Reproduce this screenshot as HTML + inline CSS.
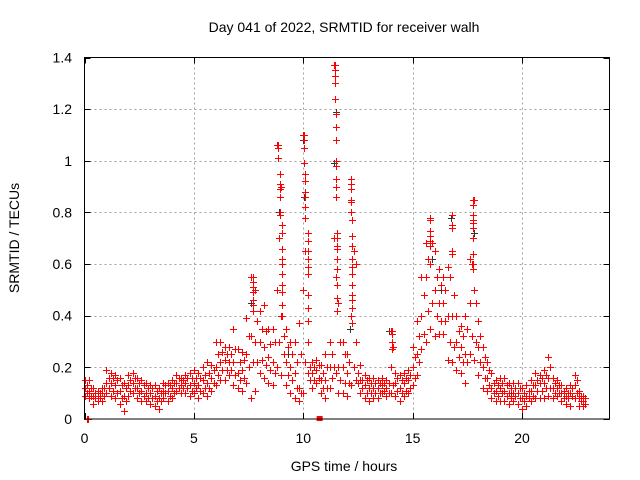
<!DOCTYPE html>
<html><head><meta charset="utf-8"><style>
html,body{margin:0;padding:0;background:#fff;}
svg{display:block;font-family:"Liberation Sans",sans-serif;}
</style></head><body>
<svg id="chart" width="640" height="480" viewBox="0 0 640 480" xmlns="http://www.w3.org/2000/svg">
<rect width="640" height="480" fill="#fff"/>
<text x="344" y="32" font-size="14" text-anchor="middle" fill="#000">Day 041 of 2022, SRMTID for receiver walh</text>
<text transform="translate(19,238) rotate(-90)" font-size="14" text-anchor="middle" fill="#000">SRMTID / TECUs</text>
<text x="344" y="471" font-size="14" text-anchor="middle" fill="#000">GPS time / hours</text>
<g id="grid"></g>
<g id="ticks"></g>
<g id="black"></g>
<g id="red"></g>
<rect x="84.5" y="57.5" width="525" height="361.5" fill="none" stroke="#000" stroke-width="1"/>
</svg>
<script>
const xTicks=[0,5,10,15,20];
const yTicks=[0,0.2,0.4,0.6,0.8,1.0,1.2,1.4];
const yTickLabels=["0","0.2","0.4","0.6","0.8","1","1.2","1.4"];
const times=[0,0.2,0.4,0.6,0.8,1.0,1.2,1.4,1.6,1.8,2.0,2.2,2.4,2.6,2.8,3.0,3.2,3.4,3.6,3.8,4.0,4.2,4.4,4.6,4.8,5.0,5.2,5.4,5.6,5.8,6.0,6.2,6.4,6.6,6.8,7.0,7.2,7.4,7.6,7.8,8.0,8.2,8.4,8.6,8.8,9.0,9.2,9.4,9.6,9.8,10.0,10.2,10.4,10.6,10.8,11.0,11.2,11.4,11.6,11.8,12.0,12.2,12.4,12.6,12.8,13.0,13.2,13.4,13.6,13.8,14.0,14.2,14.4,14.6,14.8,15.0,15.2,15.4,15.6,15.8,16.0,16.2,16.4,16.6,16.8,17.0,17.2,17.4,17.6,17.8,18.0,18.2,18.4,18.6,18.8,19.0,19.2,19.4,19.6,19.8,20.0,20.2,20.4,20.6,20.8,21.0,21.2,21.4,21.6,21.8,22.0,22.2,22.4,22.6,22.8];
const lowVals=[.09,.08,.06,.07,.07,.10,.09,.08,.06,.03,.09,.10,.08,.07,.07,.06,.05,.04,.08,.07,.08,.11,.10,.10,.09,.10,.08,.10,.09,.11,.13,.15,.15,.17,.13,.12,.11,.14,.08,.11,.18,.16,.14,.13,.20,.17,.13,.10,.08,.07,.10,.18,.12,.14,.10,.08,.12,.20,.10,.10,.09,.13,.15,.10,.08,.07,.08,.08,.10,.09,.10,.09,.07,.09,.10,.13,.17,.27,.30,.35,.32,.33,.33,.23,.22,.19,.18,.14,.25,.23,.17,.12,.11,.08,.07,.07,.07,.06,.07,.06,.04,.05,.07,.08,.08,.08,.09,.08,.09,.07,.06,.05,.08,.05,.05];
const midVals=[.12,.11,.09,.09,.10,.14,.14,.13,.11,.09,.13,.14,.12,.11,.10,.10,.09,.08,.11,.11,.12,.14,.13,.14,.13,.14,.13,.15,.14,.16,.20,.22,.23,.22,.22,.18,.19,.25,.32,.30,.30,.28,.24,.22,.50,.40,.22,.20,.18,.12,.50,.30,.18,.19,.15,.15,.20,.70,.20,.20,.18,.40,.30,.15,.13,.12,.12,.12,.13,.12,.20,.14,.12,.14,.15,.20,.25,.40,.55,.60,.50,.45,.45,.40,.40,.30,.28,.25,.45,.50,.28,.20,.16,.12,.11,.12,.11,.10,.10,.10,.08,.09,.11,.13,.14,.14,.16,.12,.12,.10,.09,.10,.13,.08,.07];
const highVals=[.15,.15,.12,.11,.12,.19,.18,.17,.16,.14,.17,.18,.16,.15,.14,.13,.13,.12,.14,.14,.15,.17,.16,.17,.18,.19,.18,.20,.22,.21,.30,.30,.28,.28,.35,.27,.26,.39,.55,.50,.42,.44,.35,.35,1.06,.90,.35,.30,.30,.37,1.10,.56,.22,.23,.21,.25,.30,1.37,.45,.30,.25,.93,.60,.21,.17,.16,.16,.15,.16,.15,.34,.18,.17,.18,.19,.28,.38,.55,.68,.78,.65,.58,.55,.59,.79,.40,.36,.40,.62,.85,.38,.28,.22,.18,.15,.16,.16,.14,.14,.14,.12,.13,.15,.18,.17,.19,.24,.16,.15,.13,.12,.13,.17,.11,.09];
const times2=[0.1,0.3,0.5,0.7,0.9,1.1,1.3,1.5,1.7,1.9,2.1,2.3,2.5,2.7,2.9,3.1,3.3,3.5,3.7,3.9,4.1,4.3,4.5,4.7,4.9,5.1,5.3,5.5,5.7,5.9,6.1,6.3,6.5,6.7,6.9,7.1,7.3,7.5,7.7,7.9,8.1,8.3,8.5,8.7,8.9,9.1,9.3,9.5,9.7,9.9,10.1,10.3,10.5,10.7,10.9,11.1,11.3,11.5,11.7,11.9,12.1,12.3,12.5,12.7,12.9,13.1,13.3,13.5,13.7,13.9,14.1,14.3,14.5,14.7,14.9,15.1,15.3,15.5,15.7,15.9,16.1,16.3,16.5,16.7,16.9,17.1,17.3,17.5,17.7,17.9,18.1,18.3,18.5,18.7,18.9,19.1,19.3,19.5,19.7,19.9,20.1,20.3,20.5,20.7,20.9,21.1,21.3,21.5,21.7,21.9,22.1,22.3,22.5,22.7,22.9];
const lowerMidVals=[.10,.09,.08,.08,.09,.12,.11,.10,.08,.07,.11,.12,.10,.09,.08,.08,.07,.07,.10,.09,.10,.12,.12,.12,.11,.12,.11,.12,.12,.14,.17,.19,.19,.19,.17,.15,.16,.20,.22,.22,.23,.21,.19,.18,.30,.25,.17,.15,.12,.10,.22,.15,.15,.16,.12,.12,.16,.18,.15,.14,.14,.20,.14,.12,.10,.10,.10,.10,.11,.10,.13,.11,.10,.11,.12,.16,.22,.33,.42,.45,.40,.38,.38,.30,.28,.24,.22,.22,.32,.30,.22,.16,.13,.10,.09,.10,.09,.08,.09,.08,.07,.08,.09,.11,.11,.12,.12,.10,.10,.08,.08,.09,.10,.07,.06];
const upperMidVals=[.13,.12,.10,.10,.12,.16,.16,.15,.13,.12,.15,.16,.14,.13,.12,.12,.11,.10,.13,.13,.14,.16,.15,.16,.16,.16,.16,.17,.18,.19,.25,.26,.25,.25,.27,.22,.23,.32,.42,.38,.35,.34,.29,.30,.70,.32,.28,.25,.22,.25,.65,.20,.20,.21,.18,.20,.25,.55,.30,.25,.22,.65,.18,.15,.15,.14,.14,.14,.14,.14,.28,.16,.15,.16,.17,.24,.32,.48,.62,.68,.55,.52,.50,.55,.48,.34,.32,.35,.60,.45,.32,.24,.19,.14,.13,.14,.13,.12,.12,.12,.10,.11,.13,.15,.16,.17,.20,.14,.13,.11,.10,.12,.15,.09,.08];
const spikeTimes=[8.85,8.85,8.85,8.95,8.95,8.95,8.95,8.95,8.95,9.05,9.05,9.05,9.05,9.05,9.05,9.05,9.05,9.05,9.05,10.05,10.05,10.05,10.05,10.1,10.1,10.1,10.1,10.1,10.1,10.2,10.2,10.2,10.2,10.2,10.2,10.2,10.2,10.2,11.45,11.45,11.45,11.45,11.45,11.45,11.5,11.5,11.5,11.5,11.5,11.5,11.5,11.5,11.55,11.55,11.55,11.55,11.55,11.55,11.55,11.55,11.55,12.2,12.2,12.2,12.2,12.2,12.2,12.25,12.25,12.25,12.25,12.25,12.25,12.25,12.25,12.25,12.25,12.25,14.05,14.05,14.05,14.05,15.8,15.8,15.8,15.8,15.8,15.8,16.8,16.8,16.8,16.8,16.8,17.75,17.75,17.75,17.75,17.75,17.75,17.75,17.75,17.75,17.75,7.7,7.7,7.7,7.7,7.7,7.7];
const spikeVals=[1.06,1.05,1.01,.95,.91,.89,.86,.80,.79,.75,.72,.66,.62,.60,.56,.52,.49,.44,.40,1.10,1.08,1.05,.99,.95,.92,.88,.86,.82,.78,.72,.69,.65,.62,.59,.56,.48,.43,.38,1.37,1.35,1.33,1.30,1.24,1.24,1.18,1.13,1.08,1.00,.98,.93,.90,.86,.72,.70,.67,.66,.62,.58,.52,.47,.42,.93,.91,.89,.85,.84,.80,.77,.71,.67,.62,.59,.56,.52,.48,.46,.43,.37,.34,.33,.30,.27,.78,.77,.73,.71,.69,.67,.79,.75,.74,.65,.64,.85,.83,.79,.77,.76,.74,.70,.64,.60,.58,.55,.53,.51,.49,.46,.44];
const blackTimes=[8.9,10.0,10.05,10.1,11.4,11.45,11.5,12.15,15.9,16.75,17.8,7.6,9.3,13.9,16.3,19.5];
const blackVals=[.80,1.08,.86,.78,.99,1.30,1.19,.35,.62,.78,.72,.45,.25,.34,.50,.10];
const zeroTimes=[0.1,0.15];
const zeroVals=[0,0];

const X0=84.5,X1=609.5,Y0=419,Y1=57.5;
function xs(t){return X0+(t/24)*(X1-X0);}
function ys(v){return Y0-(v/1.4)*(Y0-Y1);}
const NS="http://www.w3.org/2000/svg";
const grid=document.getElementById('grid'),ticks=document.getElementById('ticks');
function line(g,x1,y1,x2,y2,st,dash,name){const l=document.createElementNS(NS,'line');l.setAttribute('x1',x1);l.setAttribute('y1',y1);l.setAttribute('x2',x2);l.setAttribute('y2',y2);l.setAttribute('stroke',st);if(dash)l.setAttribute('stroke-dasharray',dash);


g.appendChild(l);}
function txt(x,y,s,anchor,name){const t=document.createElementNS(NS,'text');t.setAttribute('x',x);t.setAttribute('y',y);t.setAttribute('font-size','14');t.setAttribute('text-anchor',anchor);t.textContent=s;


ticks.appendChild(t);}
xTicks.forEach(t=>{const x=Math.round(xs(t))+0.5;
 if(t>0)line(grid,x,Y1,x,Y0,'#a0a0a0','2,3','x-gridline');
 line(ticks,x,Y0,x,Y0-6,'#000',null,'x-tick');line(ticks,x,Y1,x,Y1+6,'#000',null,'x-tick');
 txt(xs(t),443,String(t),'middle','x-tick-label');});
yTicks.forEach((v,i)=>{const y=Math.round(ys(v))+0.5;
 if(v>0&&v<1.4)line(grid,X0,y,X1,y,'#a0a0a0','2,3','y-gridline');
 line(ticks,X0,y,X0+6,y,'#000',null,'y-tick');line(ticks,X1,y,X1-6,y,'#000',null,'y-tick');
 txt(72,ys(v)+5,yTickLabels[i],'end','y-tick-label');});
function plus(t,v){const x=Math.round(xs(t))+0.5,y=Math.round(ys(v))+0.5;return 'M'+(x-3.5)+' '+y+'H'+(x+3.5)+'M'+x+' '+(y-3.5)+'V'+(y+3.5);}
function series(gid,T,V,color,name){const g=document.getElementById(gid);let d='';for(let i=0;i<T.length;i++)d+=plus(T[i],V[i]);
 const p=document.createElementNS(NS,'path');p.setAttribute('d',d);p.setAttribute('stroke',color);p.setAttribute('stroke-width','1');p.setAttribute('fill','none');
 
 
 g.appendChild(p);}
series('black',blackTimes,blackVals,'#333','black-points');
series('red',times,lowVals,'#ff0000','red-points-low');
series('red',times,midVals,'#ff0000','red-points-mid');
series('red',times,highVals,'#ff0000','red-points-high');
series('red',times2,lowerMidVals,'#ff0000','red-points-lower-mid');
series('red',times2,upperMidVals,'#ff0000','red-points-upper-mid');
series('red',spikeTimes,spikeVals,'#ff0000','red-points-spikes');
series('red',zeroTimes,zeroVals,'#ff0000','red-points-zero');
const sq=document.createElementNS(NS,'rect');sq.setAttribute('x',xs(10.75)-3);sq.setAttribute('y',Y0-3);sq.setAttribute('width',6);sq.setAttribute('height',5);sq.setAttribute('fill','#ff0000');


document.getElementById('red').appendChild(sq);
</script>
</body></html>
